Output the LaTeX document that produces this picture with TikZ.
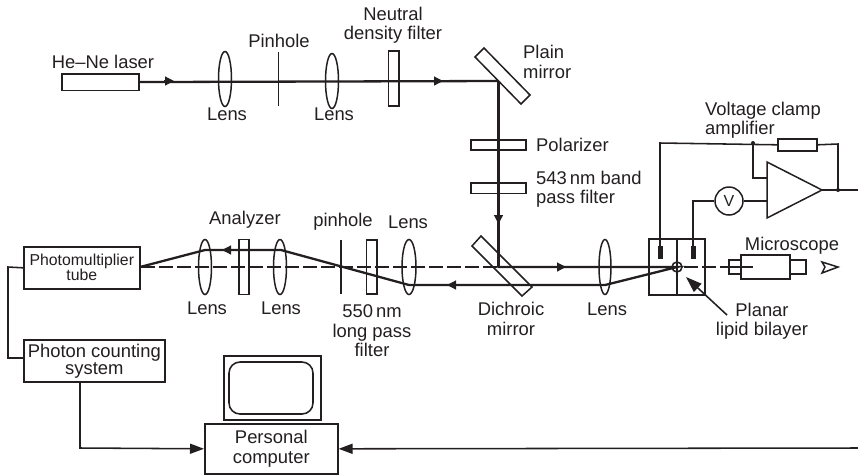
\documentclass[tikz,border=0pt]{standalone}
\usepackage{fontspec}
\setmainfont{Liberation Sans}
\usetikzlibrary{arrows.meta,positioning,calc}
\definecolor{ink}{HTML}{231F20}
\tikzset{
  thinline/.style={draw=ink,line width=1.55pt},
  beam/.style={draw=ink,line width=2.3pt},
  axisline/.style={draw=ink,line width=1.5pt,dash pattern=on 14pt off 4pt},
  tip/.style={-{Triangle[length=9pt,width=9pt]},draw=ink,line width=1.2pt},
  box/.style={draw=ink,line width=1.6pt,fill=white,inner sep=0pt,anchor=north west,align=center,text=ink},
  opticrect/.style={draw=ink,line width=1.5pt,inner sep=0pt},
  lab/.style={text=ink,font=\fontsize{18.4}{19.5}\selectfont,inner sep=0pt,align=center},
  lensshape/.style={draw=ink,line width=1.5pt},
  dotn/.style={circle,fill=ink,inner sep=0pt,minimum size=4pt}
}
\newcommand{\lens}[3]{\draw[lensshape] (#1,#2) ellipse [x radius=#3pt,y radius=27.5pt];}
\newcommand{\rectbox}[4]{\draw[opticrect] (#1,#2) rectangle (#3,#4);}
\begin{document}
\begin{tikzpicture}[x=1pt,y=-1pt]
\useasboundingbox (0,0) rectangle (858,475);
% named points
\coordinate (m1) at (498.5,81);
\coordinate (m2) at (498.5,267);
\coordinate (bil) at (677,267);
\coordinate (lensB) at (605,285);
\coordinate (lensC) at (409,285);
\coordinate (lensD) at (281,250);
\coordinate (lensE) at (205,250);
% axis dashed
\draw[axisline] (141,267) -- (498,267);
\draw[axisline] (684,267) -- (753,267);
% beams
\node[box,minimum width=77pt,minimum height=16.5pt] (laser) at (61,73) {};
\draw[beam] (laser.east) -- (m1) -- (m2) -- (bil) -- (lensB) -- (lensC) -- (lensD) -- (lensE) -- (140,267);
\draw[tip] (164,81) -- (174,81);
\draw[tip] (433,81) -- (443,81);
\draw[tip] (498.5,214) -- (498.5,224);
\draw[tip] (556,267) -- (566,267);
\draw[tip] (457,285) -- (447,285);
\draw[tip] (232,250) -- (222,250);
% top optics
\lens{225}{79}{6.5}
\draw[thinline] (278.5,52) -- (278.5,106);
\lens{332}{81}{6.5}
\rectbox{388.5}{51}{399}{106}
\draw[opticrect,fill=white] (484,48) -- (475,57) -- (521,104) -- (530,95) -- cycle;
\draw[beam] (m1) -- (m2);
\rectbox{471}{140}{526}{150}
\rectbox{471}{183}{526}{193.5}
% return optics
\lens{205}{267}{6.5}
\rectbox{239}{239.5}{249}{294.5}
\lens{280}{267}{6.5}
\draw[thinline] (341,240) -- (341,294);
\rectbox{366.5}{240}{377}{294}
\lens{409}{267}{7}
\draw[opticrect] (481,236) -- (472,246) -- (522,296) -- (532,287) -- cycle;
\lens{605}{267}{6}
% bilayer chamber
\rectbox{649}{239}{705}{295}
\draw[thinline] (677,239) -- (677,295);
\draw[thinline] (bil) circle [radius=5pt];
\fill[ink] (658,246) rectangle (663,259);
\fill[ink] (691,246) rectangle (696,259);
% electronics
\coordinate (j1) at (753,143);
\coordinate (j2) at (838,190);
\node[box,minimum width=39pt,minimum height=12pt] (res) at (777,138) {};
\node[dotn] at (j1) {};
\node[dotn] at (j2) {};
\draw[opticrect,fill=white] (767,162) -- (822,190) -- (767,218) -- cycle;
\node[circle,draw=ink,line width=1.5pt,minimum size=28pt,inner sep=0pt,text=ink,font=\fontsize{16}{18}\selectfont] (V) at (729,201) {V};
\draw[thinline] (660,246) -- (660,143) -- (res.west);
\draw[thinline] (res.east) -- (838,144) -- (j2);
\draw[thinline] (j1) -- (753,178) -- (767,178);
\draw[thinline] (693,246) -- (693,201) -- (V.west);
\draw[thinline] (V.east) -- (767,201);
\draw[thinline] (822,190) -- (858,190);
% microscope
\rectbox{729}{260}{741}{274}
\rectbox{790}{260}{806}{274}
\draw[opticrect,line width=1.6pt] (741,255) rectangle (790,279);
\draw[axisline] (729,267) -- (753,267);
\draw[opticrect] (822,262) -- (838,267) -- (822,273) -- (825,267) -- cycle;
% pointer
\draw[thinline,-{Triangle[length=16pt,width=11pt]}] (727,315) -- (686,277);
% boxes
\node[box,minimum width=116pt,minimum height=42pt,font=\fontsize{15.8}{15}\selectfont] (pmt) at (23,246) {Photomultiplier\\tube};
\node[box,minimum width=141pt,minimum height=42pt,font=\fontsize{18.4}{17}\selectfont] (pcs) at (23,339) {Photon counting\\system};
\node[box,minimum width=133pt,minimum height=50pt,font=\fontsize{18.4}{19.5}\selectfont] (pc) at (204,423) {Personal\\computer};
\node[box,minimum width=97pt,minimum height=64pt,line width=1.8pt] (mon) at (223,355) {};
\draw[thinline,rounded corners=11pt] (229,362) rectangle (313,414);
\draw[thinline] (pmt.west) -- (8,267) -- (8,358) -- (23,358);
\draw[thinline,-{Triangle[length=14pt,width=10pt]}] (80,381) -- (80,448) -- (pc.west);
\draw[thinline,-{Triangle[length=14pt,width=10pt]}] (858,448) -- (pc.east);
% labels
\node[lab] at (103,62) {He–Ne laser};
\node[lab] at (227,114) {Lens};
\node[lab] at (279,41) {Pinhole};
\node[lab] at (334,114) {Lens};
\node[lab] at (393,25) {Neutral\\density filter};
\node[lab,align=left,anchor=west] at (523,62) {Plain\\mirror};
\node[lab,anchor=west] at (536,145) {Polarizer};
\node[lab,align=left,anchor=west] at (536,189) {543\,nm band\\pass filter};
\node[lab,align=left,anchor=west] at (705,120) {Voltage clamp\\amplifier};
\node[lab] at (245,220) {Analyzer};
\node[lab] at (343,222) {pinhole};
\node[lab] at (408,222) {Lens};
\node[lab] at (207,308) {Lens};
\node[lab] at (281,308) {Lens};
\node[lab] at (372,331) {550\,nm\\long pass\\filter};
\node[lab] at (511,319) {Dichroic\\mirror};
\node[lab] at (607,309) {Lens};
\node[lab] at (792,246) {Microscope};
\node[lab] at (762,321) {Planar\\lipid bilayer};
\end{tikzpicture}
\end{document}
